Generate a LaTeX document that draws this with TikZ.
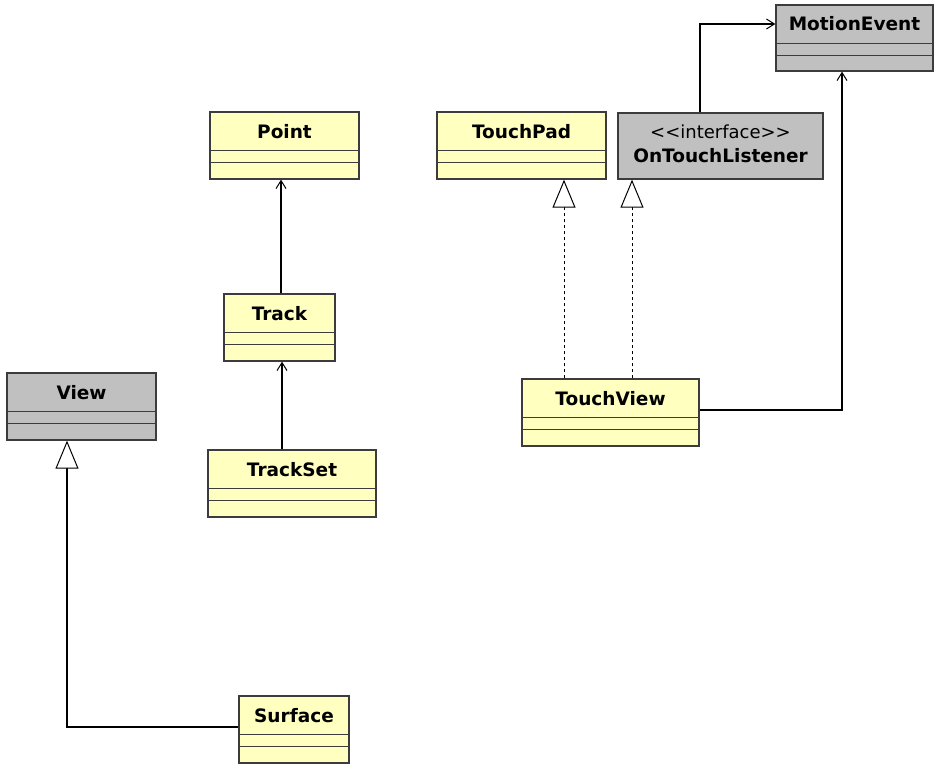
\documentclass[tikz,border=0pt]{standalone}
\usepackage{fontspec}
\setmainfont{DejaVu Sans}
\usetikzlibrary{arrows.meta}
\definecolor{classfill}{RGB}{255,255,192}
\definecolor{greyfill}{RGB}{192,192,192}
\definecolor{boxline}{RGB}{60,60,60}
\tikzset{
  classbox/.style={draw=boxline, line width=1.3pt, fill=classfill, inner sep=0pt, minimum height=67pt},
  greybox/.style={classbox, fill=greyfill},
  classname/.style={anchor=base, inner sep=0pt, font=\fontsize{18.5}{21}\selectfont\bfseries},
  stereo/.style={anchor=base, inner sep=0pt, font=\fontsize{18}{21}\selectfont},
  assoc/.style={line width=1.1pt, -{Straight Barb[length=8pt,width=10pt,line width=1pt]}},
  inherit/.style={line width=1.1pt, -{Triangle[open, fill=white, length=28pt, width=23pt, line width=1pt]}},
  realize/.style={inherit, line width=1pt, dash pattern=on 3pt off 3pt},
}
% the two empty compartments under a class name
\newcommand{\slots}[1]{%
  \draw[boxline, line width=1.3pt] ([yshift=-39pt]#1.north west) -- ([yshift=-39pt]#1.north east)
    ([yshift=-51pt]#1.north west) -- ([yshift=-51pt]#1.north east);}
\begin{document}
\begin{tikzpicture}[x=1pt, y=-1pt]
  \useasboundingbox (0,0) rectangle (934,763);

  % classes
  \node[greybox, minimum width=157pt, minimum height=66pt] (motionevent) at (854.5,38) {};
  \node[classname] (motionevent-name) at ([yshift=-26pt]motionevent.north) {MotionEvent};
  \slots{motionevent}

  \node[greybox, minimum width=205pt, minimum height=66pt] (otl) at (720.5,146) {};
  \node[stereo] (otl-stereo) at ([yshift=-26pt]otl.north) {<\kern0pt<interface>\kern0pt>};
  \node[classname] (otl-name) at ([yshift=-50pt]otl.north) {OnTouchListener};

  \node[classbox, minimum width=149pt] (point) at (284.5,145.5) {};
  \node[classname] (point-name) at ([yshift=-27pt]point.north) {Point};
  \slots{point}

  \node[classbox, minimum width=169pt] (touchpad) at (521.5,145.5) {};
  \node[classname] (touchpad-name) at ([yshift=-27pt]touchpad.north) {TouchPad};
  \slots{touchpad}

  \node[classbox, minimum width=111pt] (track) at (279.5,327.5) {};
  \node[classname] (track-name) at ([yshift=-27pt]track.north) {Track};
  \slots{track}

  \node[greybox, minimum width=149pt] (view) at (81.5,406.5) {};
  \node[classname] (view-name) at ([yshift=-27pt]view.north) {View};
  \slots{view}

  \node[classbox, minimum width=168pt] (trackset) at (292,483.5) {};
  \node[classname] (trackset-name) at ([yshift=-27pt]trackset.north) {TrackSet};
  \slots{trackset}

  \node[classbox, minimum width=177pt] (touchview) at (610.5,412.5) {};
  \node[classname] (touchview-name) at ([yshift=-27pt]touchview.north) {TouchView};
  \slots{touchview}

  \node[classbox, minimum width=110pt] (surface) at (294,729.5) {};
  \node[classname] (surface-name) at ([yshift=-27pt]surface.north) {Surface};
  \slots{surface}

  % associations
  \draw[assoc] ([xshift=1.5pt]track.north) -- ([xshift=1.5pt]track.north |- point.south);
  \draw[assoc] ([xshift=2.5pt]track.south |- trackset.north) -- ([xshift=2.5pt]track.south);
  \draw[assoc] ([yshift=2.5pt]touchview.east) -| ([xshift=-12.5pt]motionevent.south);
  \draw[assoc] ([xshift=-20.5pt]otl.north) |- ([yshift=14pt]motionevent.west);

  % generalization and realizations
  \draw[inherit] ([yshift=2.5pt]surface.west) -| ([xshift=-14.5pt]view.south);
  \draw[realize] ([xshift=-46.5pt]touchview.north) -- ([xshift=-46.5pt]touchview.north |- touchpad.south);
  \draw[realize] ([xshift=21.5pt]touchview.north) -- ([xshift=21.5pt]touchview.north |- otl.south);
\end{tikzpicture}
\end{document}
